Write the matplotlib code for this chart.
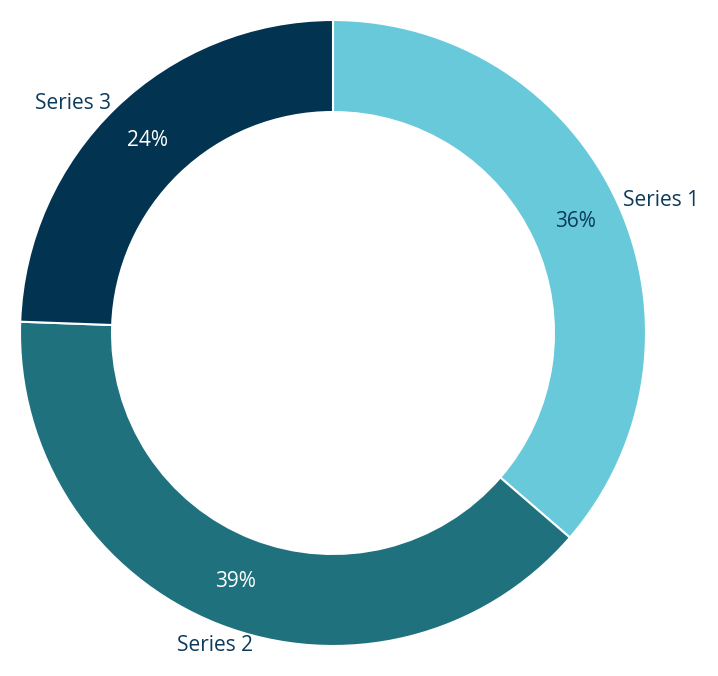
import numpy as np
import matplotlib.pyplot as plt

# donut chart data
series = ["Series 1", "Series 2", "Series 3"]
values = [36.3, 39.2, 24.4]
colors = ["#68C9DA", "#1F717E", "#023452"]
pct_colors = ["#0B3A5A", "white", "white"]

text_color = "#0B3A5A"
plt.rcParams['font.family'] = ['Open Sans', 'DejaVu Sans']

fig = plt.figure(figsize=(7.18, 6.76), dpi=100)
ax = fig.add_axes([20 / 718, 30 / 676, 626 / 718, 626 / 676])

wedges, _, autotexts = ax.pie(
    values, colors=colors, startangle=90, counterclock=False,
    radius=1.0, autopct="%.0f%%", pctdistance=0.853,
    wedgeprops=dict(width=0.294, edgecolor="white", linewidth=1.5),
    textprops=dict(fontsize=15),
)
for t, c in zip(autotexts, pct_colors):
    t.set_color(c)

# category labels just outside the ring
for w, name in zip(wedges, series):
    ang = np.deg2rad((w.theta1 + w.theta2) / 2)
    cx, cy = np.cos(ang), np.sin(ang)
    r = 1.02
    if abs(cx) < 0.4:
        ha = "center"
        va = "top" if cy < 0 else "bottom"
        r = 1.035
    else:
        ha = "left" if cx > 0 else "right"
        va = "center"
    ax.text(r * cx, r * cy, name, ha=ha, va=va, fontsize=15, color=text_color)

ax.set_xlim(-1, 1)
ax.set_ylim(-1, 1)
ax.set_aspect("auto")
ax.axis("off")

fig.savefig("out.png", dpi=100)
